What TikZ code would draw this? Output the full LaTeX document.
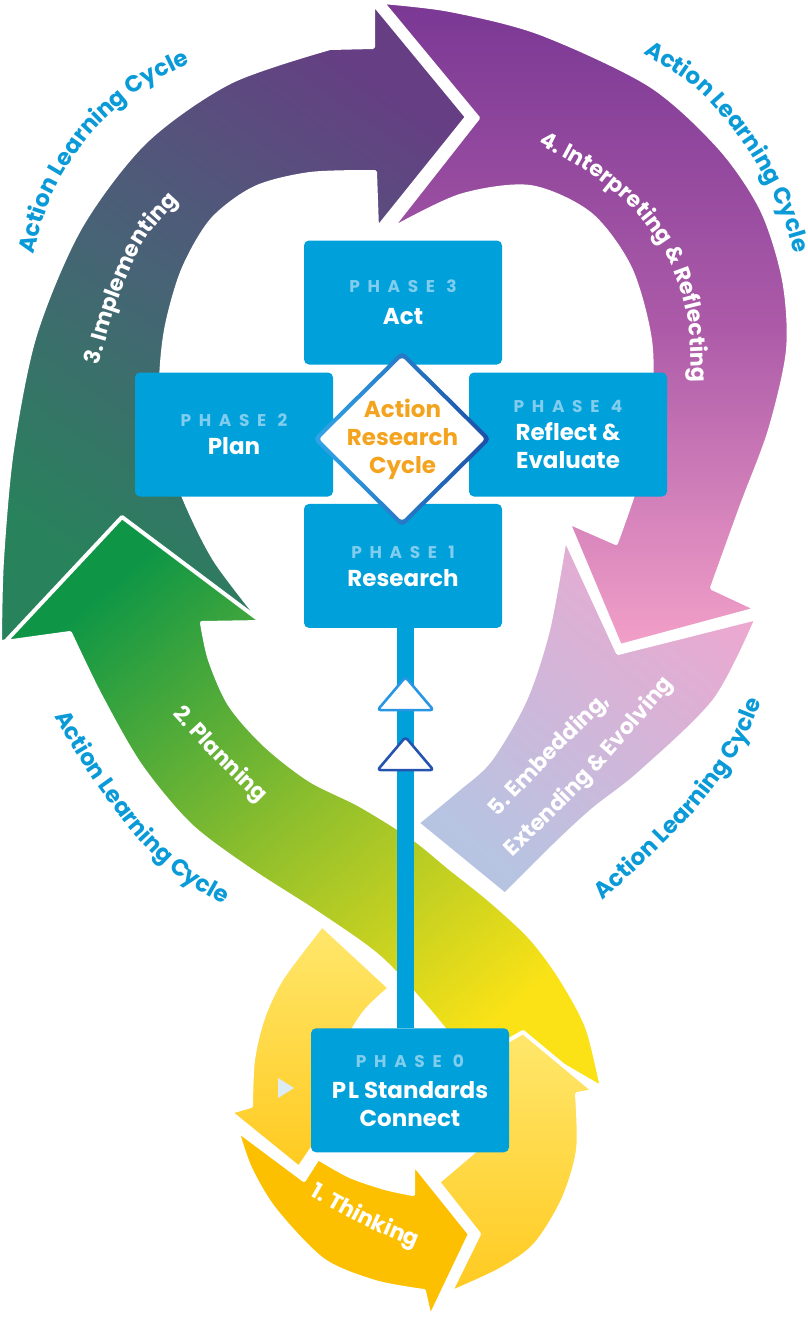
\documentclass[tikz,border=0pt]{standalone}
\usepackage{fontspec}
\setmainfont{Poppins}
\usetikzlibrary{positioning, decorations.text}

\definecolor{phaseblue}{RGB}{0,160,218}
\definecolor{phaselight}{RGB}{128,205,238}
\definecolor{cycleblue}{RGB}{10,154,216}
\definecolor{arcorange}{RGB}{244,163,30}
\definecolor{ringlight}{RGB}{48,165,232}
\definecolor{ringdark}{RGB}{30,78,165}
\definecolor{markerlight}{RGB}{40,150,228}
\definecolor{markerdark}{RGB}{36,84,176}
\definecolor{implbot}{RGB}{40,130,92}
\definecolor{implmid}{RGB}{72,98,118}
\definecolor{impltop}{RGB}{102,62,132}
\definecolor{interptop}{RGB}{122,56,148}
\definecolor{interpmid}{RGB}{172,90,168}
\definecolor{interpbot}{RGB}{242,160,200}
\definecolor{embedtop}{RGB}{236,168,208}
\definecolor{embedbot}{RGB}{182,196,226}
\definecolor{plantop}{RGB}{14,150,70}
\definecolor{planmid}{RGB}{140,190,45}
\definecolor{planbot}{RGB}{250,226,22}
\definecolor{thinklight}{RGB}{255,231,108}
\definecolor{thinkdeep}{RGB}{255,202,32}
\definecolor{thinkorange}{RGB}{252,192,0}
\definecolor{hintblue}{RGB}{220,236,246}

\newcommand{\titlefont}{\fontsize{23}{28}\selectfont\bfseries}
\newcommand{\labelfont}{\fontsize{22}{22}\selectfont\bfseries}
\newcommand{\cyclefont}{\fontsize{23}{23}\selectfont\bfseries}
\newcommand{\phasetag}[1]{{\fontsize{17}{21}\selectfont\addfontfeatures{LetterSpace=45}\textcolor{phaselight}{#1}}}

\begin{document}
\begin{tikzpicture}[
    x=1pt, y=-1pt,
    band/.style={draw=white, line width=4pt, line join=round},
    phasebox/.style={rectangle, rounded corners=5pt, fill=phaseblue, text=white, font=\titlefont, align=center, minimum width=198pt, minimum height=124pt, inner sep=0pt},
    bar/.style={draw=phaseblue, line width=17pt},
    marker/.style={fill=white, line width=2.6pt, line join=round, rounded corners=3pt},
    cycletext/.style={decorate, decoration={text along path, text align=center, text color=cycleblue, text={|\cyclefont|#1}}},
    bandtext/.style={decorate, decoration={text along path, text align=center, text color=white, text={|\labelfont|#1}}},
]
    \useasboundingbox (0,0) rectangle (807,1318);

    % 5. embedding
    \shade[band, top color=embedtop, bottom color=embedbot, shading angle=-40]
      (565,538) -- (618,653) -- (757,618)
      -- plot[smooth] coordinates {(757,618) (715,700) (640,773) (593,810) (553,847) (505,895)}
      -- (417,823)
      -- plot[smooth] coordinates {(417,823) (457,790) (490,760) (525,700) (548,630) (565,538)} -- cycle;

    % 4. interpreting
    \shade[band, top color=interptop, bottom color=interpbot, middle color=interpmid]
      (382,2) -- (478,118) -- (390,230)
      -- plot[smooth] coordinates {(390,230) (460,196) (530,187) (590,214) (630,268) (650,340) (650,410) (638,478) (616,543)}
      -- (568,522) -- (620,646) -- (757,609) -- (712,588)
      -- plot[smooth] coordinates {(712,588) (742,505) (770,430) (788,350) (784,280) (762,210) (720,148) (650,85) (540,33) (450,10) (382,2)} -- cycle;

    % 3. implementing
    \shade[band, top color=impltop, bottom color=implbot, middle color=implmid, shading angle=-35]
      (0,642)
      -- plot[smooth] coordinates {(0,640) (2,560) (12,450) (35,335) (80,228) (145,142) (230,82) (330,48)}
      -- (373,47) -- (373,3) -- (467,117) -- (377,229) -- (375,172)
      -- plot[smooth] coordinates {(375,172) (310,174) (255,188) (212,220) (183,270) (166,330) (161,390) (168,450) (185,500) (215,560) (262,622)} -- cycle;

    % 2. planning
    \shade[band, top color=plantop, bottom color=planbot, middle color=planmid, shading angle=40]
      (122,517) -- (262,622) -- (202,623)
      -- plot[smooth] coordinates {(202,623) (210,660) (230,705) (265,745) (310,780) (360,805) (413,838) (450,868) (490,900) (530,937) (560,977) (587,1027) (602,1088)}
      -- (540,1052) -- (470,1062)
      -- plot[smooth] coordinates {(470,1062) (430,1012) (380,958) (320,915) (250,870) (190,825) (140,765) (100,695) (70,633)}
      -- (5,642) -- cycle;

    % 1. thinking, three pieces round phase 0
    \shade[band, top color=thinklight, bottom color=thinkdeep]
      (322,925) -- (390,988)
      -- plot[smooth] coordinates {(390,988) (365,1012) (345,1045) (335,1080) (330,1098)}
      -- (345,1100) -- (299,1168) -- (230,1112) -- (251,1106)
      -- plot[smooth] coordinates {(251,1106) (253,1060) (263,1018) (282,978) (322,925)} -- cycle;
    \shade[band, top color=thinklight, bottom color=thinkdeep]
      (450,1293) -- (479,1234) -- (438,1182) -- (478,1148) -- (458,1095) -- (440,1080)
      -- (523,1032) -- (594,1091) -- (577,1094)
      -- plot[smooth] coordinates {(577,1094) (578,1150) (563,1200) (535,1245) (500,1270) (450,1293)} -- cycle;
    \fill[band, fill=thinkorange]
      (237,1130) -- (304,1180) -- (318,1158)
      -- plot[smooth] coordinates {(318,1158) (350,1176) (385,1188) (413,1194)}
      -- (413,1163) -- (470,1234) -- (430,1318) -- (424,1291)
      -- plot[smooth] coordinates {(424,1291) (375,1282) (323,1260) (275,1210) (250,1168) (237,1130)} -- cycle;
    \fill[hintblue] (278,1078) -- (294,1088) -- (278,1098) -- cycle;

    % phases
    \node (act) [phasebox] at (403,302.5) {\phasetag{PHASE 3}\\[4pt]Act};
    \node (research) [phasebox, below=139pt of act] {\phasetag{PHASE 1}\\Research};
    \node (plan) [phasebox] at (234,434.5) {\phasetag{PHASE 2}\\Plan};
    \node (reflect) [phasebox] at (568,434.5) {\phasetag{PHASE 4}\\Reflect \&\\Evaluate};
    \node (standards) [phasebox, below=400pt of research, xshift=7pt] {\phasetag{PHASE 0}\\[3pt]P\kern2pt L Standards\\Connect};

    \draw [bar] ([xshift=2.5pt]research.south) -- ([xshift=-4.5pt]standards.north);
    \path ([xshift=2.5pt]research.south) ++(0,65) coordinate (up1) ++(0,60) coordinate (up2);
    \draw [marker, draw=markerlight] (up1) ++(0,-16) -- ++(28,33) -- ++(-56,0) -- cycle;
    \draw [marker, draw=markerdark] (up2) ++(0,-16) -- ++(28,33) -- ++(-56,0) -- cycle;

    % centre diamond
    \shade[left color=ringlight, right color=ringdark, rounded corners=5pt]
      (402,351) -- (491,439) -- (402,527) -- (313,439) -- cycle;
    \fill[white, rounded corners=3pt] (402,357) -- (485,439) -- (402,521) -- (319,439) -- cycle;
    \node (arc) [text=arcorange, font=\titlefont, align=center] at (402.5,439) {Action\\Research\\Cycle};

    % labels
    \path [bandtext={1. Thinking}] plot[smooth] coordinates {(283,1180) (300,1190) (363,1225) (426,1252) (444,1260)};
    \path [bandtext={2. Planning}] plot[smooth] coordinates {(156,697) (170,712) (215,760) (262,806) (276,820)};
    \path [bandtext={3. Implementing}] plot[smooth] coordinates {(88,405) (98,368) (118,300) (145,240) (190,188) (206,170)};
    \path [bandtext={4. Interpreting {\&} Reflecting}] plot[smooth] coordinates {(505,127) (531,141) (585,170) (632,208) (668,258) (688,320) (692,392) (693,420)};
    \path [bandtext={5. Embedding,}] plot[smooth] coordinates {(470,845) (492,823) (554,758) (616,696) (638,674)};
    \path [bandtext={Extending {\&} Evolving}] plot[smooth] coordinates {(482,888) (503,867) (594,776) (682,674) (702,651)};

    \path [cycletext={Action Learning Cycle}] plot[smooth] coordinates {(22,295) (31,262) (52,195) (90,135) (140,90) (197,60) (227,44)};
    \path [cycletext={Action Learning Cycle}] plot[smooth] coordinates {(614,33) (642,52) (700,92) (748,150) (780,210) (795,256) (805,288)};
    \path [cycletext={Action Learning Cycle}] plot[smooth] coordinates {(35,684) (53,714) (90,775) (135,835) (180,878) (228,907) (256,924)};
    \path [cycletext={Action Learning Cycle}] plot[smooth] coordinates {(576,926) (600,903) (650,857) (700,805) (740,750) (763,697) (776,667)};

\end{tikzpicture}
\end{document}
